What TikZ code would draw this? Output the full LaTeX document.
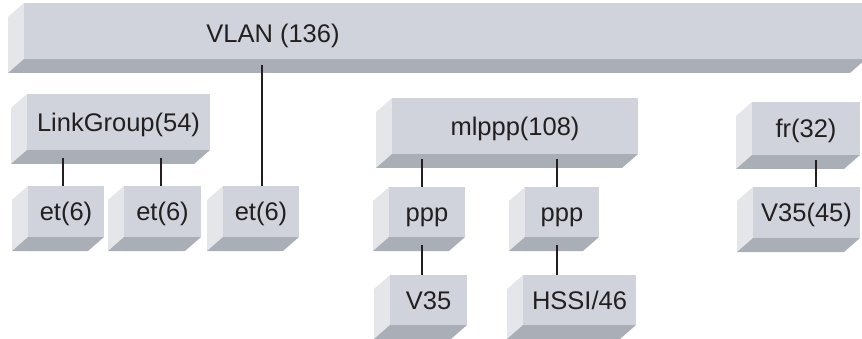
\documentclass[tikz,border=0pt]{standalone}
\usepackage{fontspec}
\setmainfont{Liberation Sans}

\definecolor{faceFront}{RGB}{208,211,219}
\definecolor{faceSide}{RGB}{229,230,234}
\definecolor{faceBottom}{RGB}{169,174,183}
\definecolor{ink}{RGB}{35,31,32}

\tikzset{
  txt/.style={inner sep=0pt, text=ink,
    font=\fontsize{25.5}{30}\selectfont, text height=18.3pt, text depth=0pt},
  frontface/.style={txt, fill=faceFront},
  link/.style={draw=ink, line width=2pt},
}

% bevelled block: name, left, top, right, bottom of the front face, text
\newcommand\bevelbox[6]{%
  \fill[faceSide] (#2,#3) -- (#2-16,#3+14) -- (#2-16,#5+14) -- (#2,#5) -- cycle;
  \fill[faceBottom] (#2,#5) -- (#4,#5) -- (#4-16,#5+14) -- (#2-16,#5+14) -- cycle;
  \pgfmathsetmacro\bbw{#4-#2}%
  \pgfmathsetmacro\bbh{#5-#3}%
  \node[frontface, minimum width=\bbw pt, minimum height=\bbh pt]
    (#1) at ({(#2+#4)/2},{(#3+#5)/2}) {#6};
}

\begin{document}
\begin{tikzpicture}[x=1pt, y=-1pt]
\useasboundingbox (0,0) rectangle (862,339);

% blocks
\bevelbox{vlan}{24}{3}{866}{59}{}
\node[txt] (vlantext) at (273,33) {VLAN (136)};

\bevelbox{lg}{27}{94}{210}{150}{LinkGroup(54)}
\bevelbox{etA}{28}{186}{104}{237}{et(6)}
\bevelbox{etB}{124}{186}{201}{237}{et(6)}
\bevelbox{etC}{223}{186}{299}{237}{et(6)}

\bevelbox{ml}{392}{98}{638}{154}{mlppp(108)}
\bevelbox{pppA}{389}{187}{465}{237}{ppp}
\bevelbox{pppB}{525}{187}{599}{237}{ppp}
\bevelbox{vA}{390}{275}{467}{325}{V35}
\bevelbox{hssi}{523}{275}{636}{325}{HSSI/46}

\bevelbox{fr}{752}{102}{860}{155}{fr(32)}
\bevelbox{vB}{753}{187}{860}{238}{V35(45)}

% connectors
\draw[link] ([xshift=1pt]etC.north) -- ([xshift=1pt,yshift=-6pt]etC.north |- vlan.south);
\draw[link] ([xshift=-3pt]etA.north) -- ([xshift=-3pt,yshift=-8pt]etA.north |- lg.south);
\draw[link] ([xshift=-1.5pt]etB.north) -- ([xshift=-1.5pt,yshift=-8pt]etB.north |- lg.south);
\draw[link] ([xshift=-5pt]pppA.north) -- ([xshift=-5pt,yshift=-5pt]pppA.north |- ml.south);
\draw[link] ([xshift=-5pt]pppB.north) -- ([xshift=-5pt,yshift=-5pt]pppB.north |- ml.south);
\draw[link] ([xshift=-6.5pt]vA.north) -- ([xshift=-6.5pt,yshift=-8pt]vA.north |- pppA.south);
\draw[link] ([xshift=-22.5pt]hssi.north) -- ([xshift=-22.5pt,yshift=-8pt]hssi.north |- pppB.south);
\draw[link] ([xshift=9.5pt]vB.north) -- ([xshift=9.5pt,yshift=-5pt]vB.north |- fr.south);
\end{tikzpicture}
\end{document}
